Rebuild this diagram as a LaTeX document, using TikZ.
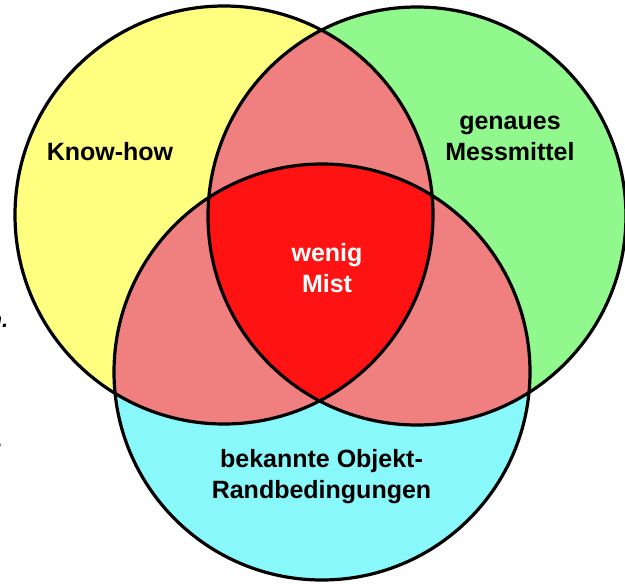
\documentclass[tikz,border=0pt]{standalone}
\usepackage{fontspec}
\setmainfont{Liberation Sans}
\definecolor{cyel}{RGB}{255,255,128}
\definecolor{cgrn}{RGB}{144,248,140}
\definecolor{ccyan}{RGB}{136,248,250}
\definecolor{cpink}{RGB}{240,128,128}
\definecolor{cred}{RGB}{255,18,18}
\tikzset{
  ring/.style={draw=black, line width=3.2pt},
  lbl/.style={font=\fontsize{25}{31}\selectfont\bfseries, align=center, inner sep=0pt},
  frag/.style={font=\fontsize{22}{26}\selectfont\bfseries\itshape, inner sep=0pt, anchor=base east}
}
\begin{document}
\begin{tikzpicture}[x=1pt,y=-1pt]
\useasboundingbox (0,0) rectangle (625,584);
\def\Ypath{(224,215) circle[radius=209pt]}
\def\Gpath{(417,216) circle[radius=209pt]}
\def\Bpath{(322,372) circle[radius=208pt]}
% base fills
\fill[cyel] \Ypath;
\fill[cgrn] \Gpath;
\fill[ccyan] \Bpath;
% pairwise overlaps
\begin{scope}
  \clip \Ypath;
  \fill[cpink] \Gpath;
  \fill[cpink] \Bpath;
\end{scope}
\begin{scope}
  \clip \Gpath;
  \fill[cpink] \Bpath;
\end{scope}
% triple overlap
\begin{scope}
  \clip \Ypath;
  \clip \Gpath;
  \fill[cred] \Bpath;
\end{scope}
% outlines
\draw[ring] \Ypath;
\draw[ring] \Gpath;
\draw[ring] \Bpath;
% labels
\node[lbl] (know) at (110,152) {Know-how};
\node[lbl] (mess) at (510,138) {genaues\\Messmittel};
\node[lbl, text=white] (mist) at (327,268) {wenig\\Mist};
\node[lbl] (rand) at (321.5,477) {bekannte Objekt-\\Randbedingungen};
% clipped text fragments at the left edge
\node[frag] (fragA) at (8.5,327) {n.};
\node[frag] (fragB) at (3,447) {.};
\end{tikzpicture}
\end{document}
